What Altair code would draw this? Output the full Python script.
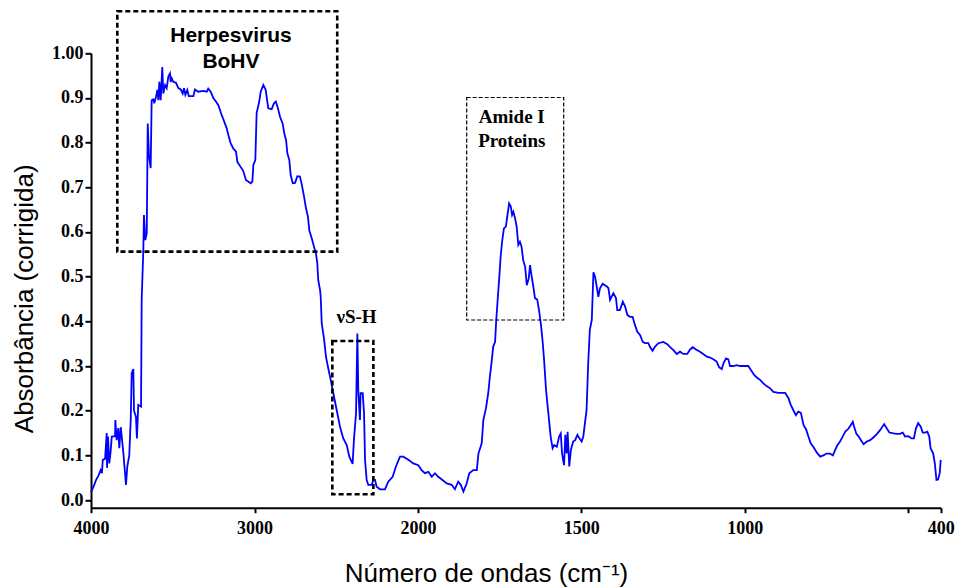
import altair as alt
import pandas as pd

# --- spectrum (wavenumber cm-1, corrected absorbance) ---
wavenumber = [4000, 3994, 3982, 3969, 3955, 3941, 3933, 3928, 3914, 3908, 3904, 3902, 3896, 3888, 3880,
              3873, 3853, 3851, 3843, 3833, 3827, 3818, 3810, 3802, 3786, 3778, 3766, 3757, 3751, 3741,
              3737, 3725, 3719, 3711, 3694, 3690, 3680, 3676, 3668, 3659, 3653, 3645, 3635, 3629, 3619,
              3613, 3602, 3594, 3588, 3582, 3574, 3564, 3558, 3547, 3537, 3527, 3517, 3513, 3506, 3497,
              3480, 3466, 3451, 3439, 3431, 3423, 3411, 3402, 3374, 3364, 3344, 3313, 3292, 3283, 3268,
              3252, 3236, 3221, 3211, 3201, 3187, 3170, 3160, 3146, 3130, 3113, 3105, 3089, 3069, 3052,
              3038, 3023, 3013, 3007, 2995, 2987, 2971, 2962, 2946, 2932, 2916, 2895, 2881, 2869, 2854,
              2844, 2828, 2818, 2807, 2799, 2787, 2779, 2766, 2752, 2738, 2722, 2710, 2697, 2685, 2673,
              2665, 2650, 2636, 2624, 2616, 2610, 2599, 2595, 2589, 2575, 2563, 2549, 2534, 2518, 2497,
              2477, 2457, 2436, 2420, 2400, 2392, 2379, 2371, 2365, 2355, 2351, 2338, 2330, 2324, 2314,
              2304, 2283, 2273, 2263, 2253, 2232, 2202, 2182, 2155, 2135, 2110, 2090, 2059, 2029, 1999,
              1989, 1979, 1968, 1958, 1948, 1938, 1927, 1912, 1897, 1887, 1877, 1869, 1861, 1851, 1843,
              1831, 1820, 1815, 1805, 1800, 1792, 1785, 1780, 1774, 1770, 1764, 1761, 1757, 1751, 1747,
              1742, 1737, 1731, 1727, 1721, 1716, 1712, 1708, 1703, 1698, 1693, 1688, 1683, 1678, 1672,
              1667, 1661, 1657, 1652, 1647, 1642, 1635, 1629, 1623, 1618, 1614, 1608, 1603, 1598, 1594,
              1588, 1583, 1575, 1568, 1563, 1559, 1553, 1549, 1545, 1542, 1537, 1532, 1525, 1519, 1512,
              1506, 1499, 1494, 1489, 1484, 1479, 1474, 1468, 1463, 1458, 1453, 1448, 1443, 1435, 1422,
              1417, 1412, 1402, 1394, 1390, 1382, 1373, 1366, 1359, 1351, 1343, 1336, 1329, 1320, 1312,
              1305, 1295, 1290, 1282, 1275, 1264, 1249, 1237, 1229, 1219, 1208, 1198, 1188, 1176, 1167,
              1159, 1149, 1137, 1127, 1116, 1106, 1096, 1086, 1078, 1070, 1065, 1057, 1050, 1045, 1035,
              1024, 1014, 989, 979, 971, 963, 953, 943, 933, 922, 912, 897, 876, 866, 859,
              851, 843, 836, 828, 820, 812, 805, 798, 789, 779, 769, 759, 749, 739, 730,
              723, 716, 708, 700, 692, 682, 675, 669, 665, 658, 651, 644, 636, 626, 616,
              606, 595, 585, 573, 565, 557, 544, 534, 525, 516, 509, 499, 489, 482, 476,
              469, 461, 455, 448, 441, 435, 431, 423, 418, 413, 408, 403, 400]
absorbance = [0.018, 0.022, 0.032, 0.045, 0.054, 0.067, 0.060, 0.090, 0.092, 0.127, 0.150, 0.072, 0.142, 0.082, 0.108,
              0.142, 0.143, 0.179, 0.134, 0.161, 0.116, 0.163, 0.134, 0.105, 0.034, 0.075, 0.100, 0.179, 0.284, 0.293,
              0.200, 0.186, 0.138, 0.213, 0.209, 0.448, 0.560, 0.638, 0.582, 0.597, 0.843, 0.769, 0.743, 0.895, 0.897,
              0.888, 0.903, 0.918, 0.895, 0.936, 0.895, 0.969, 0.910, 0.929, 0.922, 0.948, 0.955, 0.936, 0.944, 0.936,
              0.934, 0.922, 0.919, 0.910, 0.922, 0.907, 0.918, 0.904, 0.904, 0.919, 0.914, 0.916, 0.914, 0.921, 0.914,
              0.900, 0.892, 0.884, 0.873, 0.862, 0.849, 0.832, 0.817, 0.799, 0.787, 0.780, 0.757, 0.748, 0.737, 0.716,
              0.713, 0.709, 0.713, 0.750, 0.761, 0.866, 0.892, 0.914, 0.929, 0.919, 0.877, 0.875, 0.888, 0.892, 0.873,
              0.858, 0.843, 0.821, 0.806, 0.776, 0.761, 0.728, 0.709, 0.710, 0.725, 0.724, 0.705, 0.679, 0.653, 0.634,
              0.604, 0.586, 0.567, 0.552, 0.530, 0.492, 0.470, 0.455, 0.396, 0.362, 0.321, 0.295, 0.269, 0.239, 0.201,
              0.164, 0.138, 0.123, 0.097, 0.081, 0.134, 0.194, 0.373, 0.242, 0.179, 0.239, 0.239, 0.194, 0.090, 0.045,
              0.034, 0.034, 0.045, 0.045, 0.030, 0.024, 0.024, 0.041, 0.052, 0.075, 0.097, 0.097, 0.090, 0.082, 0.078,
              0.067, 0.060, 0.063, 0.052, 0.060, 0.052, 0.046, 0.037, 0.034, 0.024, 0.041, 0.034, 0.019, 0.037, 0.060,
              0.067, 0.067, 0.104, 0.127, 0.179, 0.205, 0.239, 0.276, 0.313, 0.343, 0.354, 0.396, 0.440, 0.500, 0.545,
              0.582, 0.608, 0.612, 0.634, 0.664, 0.657, 0.638, 0.645, 0.631, 0.612, 0.571, 0.578, 0.567, 0.537, 0.522,
              0.481, 0.496, 0.526, 0.500, 0.478, 0.452, 0.449, 0.422, 0.388, 0.351, 0.313, 0.246, 0.209, 0.172, 0.142,
              0.116, 0.123, 0.119, 0.142, 0.149, 0.104, 0.078, 0.146, 0.104, 0.153, 0.075, 0.112, 0.131, 0.134, 0.146,
              0.138, 0.131, 0.142, 0.172, 0.201, 0.306, 0.381, 0.403, 0.510, 0.500, 0.478, 0.455, 0.474, 0.484, 0.478,
              0.474, 0.448, 0.463, 0.452, 0.425, 0.425, 0.444, 0.433, 0.414, 0.410, 0.410, 0.392, 0.377, 0.369, 0.354,
              0.351, 0.351, 0.343, 0.334, 0.343, 0.351, 0.354, 0.349, 0.343, 0.336, 0.327, 0.332, 0.327, 0.327, 0.337,
              0.342, 0.337, 0.332, 0.327, 0.321, 0.319, 0.315, 0.310, 0.297, 0.293, 0.306, 0.317, 0.315, 0.300, 0.300,
              0.302, 0.300, 0.300, 0.289, 0.280, 0.274, 0.269, 0.261, 0.255, 0.250, 0.242, 0.240, 0.240, 0.228, 0.213,
              0.201, 0.190, 0.198, 0.195, 0.168, 0.158, 0.142, 0.127, 0.118, 0.106, 0.097, 0.100, 0.104, 0.104, 0.100,
              0.112, 0.123, 0.131, 0.142, 0.153, 0.160, 0.168, 0.175, 0.164, 0.148, 0.142, 0.134, 0.125, 0.131, 0.134,
              0.140, 0.148, 0.157, 0.170, 0.160, 0.151, 0.149, 0.148, 0.148, 0.151, 0.142, 0.143, 0.138, 0.138, 0.160,
              0.172, 0.164, 0.151, 0.151, 0.153, 0.142, 0.116, 0.104, 0.082, 0.045, 0.046, 0.060, 0.090]

# --- annotation boxes (data coordinates) ---
box_names = ["Herpesvirus", "nuSH", "Amide"]
box_wn_left = [3839, 2524, 1851]
box_wn_right = [2494, 2273, 1554]
box_abs_low = [0.556, 0.013, 0.403]
box_abs_high = [1.094, 0.356, 0.901]

# --- annotation texts ---
sans_labels = ["Herpesvirus", "BoHV"]
sans_wn = [3144, 3144]
sans_abs = [1.026, 0.966]
serif_labels = ["\u03bdS-H", "Amide I", "Proteins"]
serif_wn = [2376, 1713, 1713]
serif_abs = [0.396, 0.843, 0.791]

x_ticks = [4000, 3000, 2000, 1500, 1000, 500, 400]
y_ticks = [0.0, 0.1, 0.2, 0.3, 0.4, 0.5, 0.6, 0.7, 0.8, 0.9, 1.0]

W = 849.7
H = 454.4

spec = pd.DataFrame({"wn": wavenumber, "a": absorbance, "idx": range(len(wavenumber))})
boxes = pd.DataFrame({"name": box_names, "x1": box_wn_left, "x2": box_wn_right,
                      "y1": box_abs_low, "y2": box_abs_high})
sans_df = pd.DataFrame({"t": sans_labels, "wn": sans_wn, "a": sans_abs})
serif_df = pd.DataFrame({"t": serif_labels, "wn": serif_wn, "a": serif_abs})

xscale = alt.Scale(domain=[4000, 2000, 400], range=[0, 327, W], zero=False, nice=False)
yscale = alt.Scale(domain=[-0.0172, 1.0], nice=False, zero=False)

xaxis = alt.Axis(values=x_ticks, title="Número de ondas (cm\u207b\u00b9)",
                 labelExpr="datum.value == 500 ? '' : datum.value",
                 labelFlush=False, labelOverlap=False,
                 labelPadding=7, tickSize=5, titleX=395, titleY=74,
                 titleAnchor="start", titleAlign="center", titleBaseline="alphabetic")
yaxis = alt.Axis(values=y_ticks, title="Absorbância (corrigida)",
                 labelExpr="datum.value == 1 ? '1.00' : format(datum.value, '.1f')",
                 labelFlush=False, labelOverlap=False,
                 labelPadding=2, tickSize=6, titleX=-59, titleY=245, titleAngle=270,
                 titleAlign="center", titleBaseline="alphabetic")

line = alt.Chart(spec).mark_line(color="#0000ff", strokeWidth=1.8, clip=False).encode(
    x=alt.X("wn:Q", scale=xscale, axis=xaxis),
    y=alt.Y("a:Q", scale=yscale, axis=yaxis),
    order="idx:Q",
)

thick_boxes = alt.Chart(boxes).transform_filter(alt.datum.name != "Amide").mark_rect(
    fill=None, stroke="black", strokeWidth=2.6, strokeDash=[5, 3], clip=False
).encode(x="x1:Q", x2="x2:Q", y="y1:Q", y2="y2:Q")

thin_box = alt.Chart(boxes).transform_filter(alt.datum.name == "Amide").mark_rect(
    fill=None, stroke="black", strokeWidth=1.2, strokeDash=[4, 2], clip=False
).encode(x="x1:Q", x2="x2:Q", y="y1:Q", y2="y2:Q")

sans_text = alt.Chart(sans_df).mark_text(
    font="Liberation Sans", fontWeight="bold", fontSize=21, color="black",
    align="center", baseline="alphabetic", clip=False
).encode(x="wn:Q", y="a:Q", text="t:N")

serif_text = alt.Chart(serif_df).mark_text(
    font="Liberation Serif", fontWeight="bold", fontSize=19, color="black",
    align="center", baseline="alphabetic", clip=False
).encode(x="wn:Q", y="a:Q", text="t:N")

chart = alt.layer(line, thick_boxes, thin_box, sans_text, serif_text).properties(
    width=W, height=H,
    autosize=alt.AutoSizeParams(type="none"),
    padding={"left": 91, "top": 53.3, "right": 17.3, "bottom": 79.3},
    background="white",
).configure_view(stroke=None).configure_axis(
    grid=False, domainColor="black", domainWidth=2, tickColor="black", tickWidth=2,
    labelFont="Liberation Serif", labelFontWeight="bold", labelFontSize=18, labelColor="black",
    titleFont="Liberation Sans", titleFontWeight="normal", titleFontSize=26, titleColor="black",
)

chart.save("out.html", embed_options={"renderer": "svg", "actions": False})
